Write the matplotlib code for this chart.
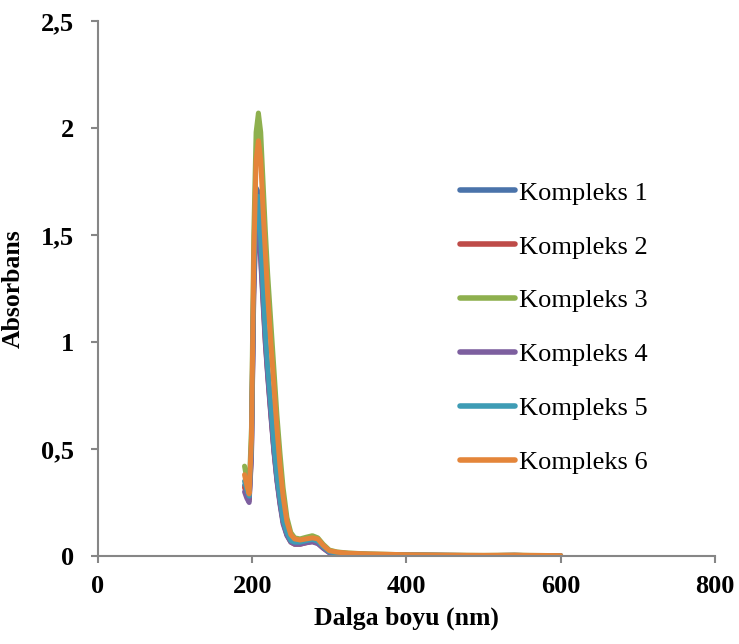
"""UV-Vis absorption spectra of the six complexes."""

import matplotlib
matplotlib.use("Agg")
import matplotlib.pyplot as plt

plt.rcParams["font.family"] = ["Liberation Serif", "DejaVu Serif"]

# wavelength grid (nm)
wavelength = [190, 193, 196, 199, 202, 205, 208, 211, 214, 217, 220, 224, 228, 232,
              236, 240, 245, 250, 255, 262, 270, 278, 285, 292, 300, 310, 325, 350,
              400, 450, 500, 540, 560, 600]

kompleks_1 = [0.33, 0.30, 0.27, 0.50, 1.30, 1.72, 1.70, 1.45, 1.22, 1.02, 0.86, 0.68,
              0.50, 0.36, 0.25, 0.16, 0.10, 0.07, 0.06, 0.06, 0.068, 0.072, 0.065,
              0.04, 0.018, 0.013, 0.010, 0.007, 0.004, 0.003, 0.002, 0.003, 0.002, 0.001]
kompleks_2 = [0.32, 0.29, 0.26, 0.48, 1.25, 1.62, 1.60, 1.40, 1.20, 1.00, 0.85, 0.67,
              0.50, 0.36, 0.25, 0.16, 0.10, 0.065, 0.055, 0.055, 0.062, 0.068, 0.06,
              0.038, 0.016, 0.012, 0.009, 0.006, 0.004, 0.003, 0.002, 0.003, 0.002, 0.001]
kompleks_3 = [0.42, 0.36, 0.31, 0.60, 1.50, 1.98, 2.07, 1.98, 1.75, 1.52, 1.32, 1.10,
              0.88, 0.66, 0.48, 0.32, 0.18, 0.11, 0.085, 0.08, 0.088, 0.095, 0.085,
              0.055, 0.028, 0.019, 0.014, 0.010, 0.006, 0.004, 0.003, 0.004, 0.003, 0.002]
kompleks_4 = [0.30, 0.27, 0.25, 0.46, 1.22, 1.55, 1.55, 1.38, 1.18, 0.99, 0.84, 0.66,
              0.49, 0.35, 0.24, 0.15, 0.095, 0.065, 0.055, 0.055, 0.062, 0.066, 0.058,
              0.036, 0.015, 0.011, 0.008, 0.006, 0.004, 0.003, 0.002, 0.003, 0.002, 0.001]
kompleks_5 = [0.35, 0.31, 0.28, 0.52, 1.32, 1.68, 1.68, 1.48, 1.26, 1.05, 0.89, 0.71,
              0.53, 0.38, 0.27, 0.17, 0.11, 0.072, 0.065, 0.065, 0.072, 0.078, 0.07,
              0.044, 0.02, 0.014, 0.011, 0.008, 0.005, 0.003, 0.002, 0.003, 0.002, 0.001]
kompleks_6 = [0.38, 0.33, 0.29, 0.55, 1.40, 1.85, 1.94, 1.85, 1.62, 1.42, 1.22, 1.00,
              0.80, 0.60, 0.42, 0.28, 0.16, 0.10, 0.08, 0.075, 0.08, 0.085, 0.08,
              0.05, 0.025, 0.018, 0.013, 0.010, 0.006, 0.004, 0.003, 0.004, 0.003, 0.002]

series = [kompleks_1, kompleks_2, kompleks_3, kompleks_4, kompleks_5, kompleks_6]
labels = ["Kompleks 1", "Kompleks 2", "Kompleks 3", "Kompleks 4", "Kompleks 5", "Kompleks 6"]
colors = ["#4A73AA", "#BE4B48", "#8EB04E", "#7D5F9F", "#3E9CB5", "#E4853A"]

x_ticks = [0, 200, 400, 600, 800]
y_ticks = [0, 0.5, 1, 1.5, 2, 2.5]
y_tick_labels = ["0", "0,5", "1", "1,5", "2", "2,5"]

fig = plt.figure(figsize=(7.39, 6.44), dpi=100)
ax = fig.add_axes([0.1326, 0.1366, 0.8349, 0.8308])

for values, label, color in zip(series, labels, colors):
    ax.plot(wavelength, values, color=color, lw=3.6, label=label,
            solid_capstyle="round", solid_joinstyle="round")

ax.set_xlim(0, 800)
ax.set_ylim(0, 2.5)
ax.set_xticks(x_ticks)
ax.set_xticklabels([str(t) for t in x_ticks])
ax.set_yticks(y_ticks)
ax.set_yticklabels(y_tick_labels)

for side in ("top", "right"):
    ax.spines[side].set_visible(False)
for side in ("left", "bottom"):
    ax.spines[side].set_color("#868686")
    ax.spines[side].set_linewidth(1.5)

ax.tick_params(direction="out", length=5, width=1.5, color="#868686", labelsize=19)
ax.tick_params(axis="x", pad=9)
ax.tick_params(axis="y", pad=12)
for lbl in ax.get_xticklabels() + ax.get_yticklabels():
    lbl.set_fontweight("bold")

ax.set_xlabel("Dalga boyu (nm)", fontsize=18.5, fontweight="bold", labelpad=6)
ax.set_ylabel("Absorbans", fontsize=18.5, fontweight="bold", labelpad=12)

leg = ax.legend(loc="center left", bbox_to_anchor=(460 / 739, 1 - 327.5 / 644),
                bbox_transform=fig.transFigure, frameon=False, fontsize=19,
                handlelength=2.1, handletextpad=0.15, labelspacing=1.15,
                borderpad=0, borderaxespad=0)
for line in leg.get_lines():
    line.set_linewidth(4)
    line.set_solid_capstyle("round")

fig.savefig("out.png", dpi=100)
plt.close(fig)
